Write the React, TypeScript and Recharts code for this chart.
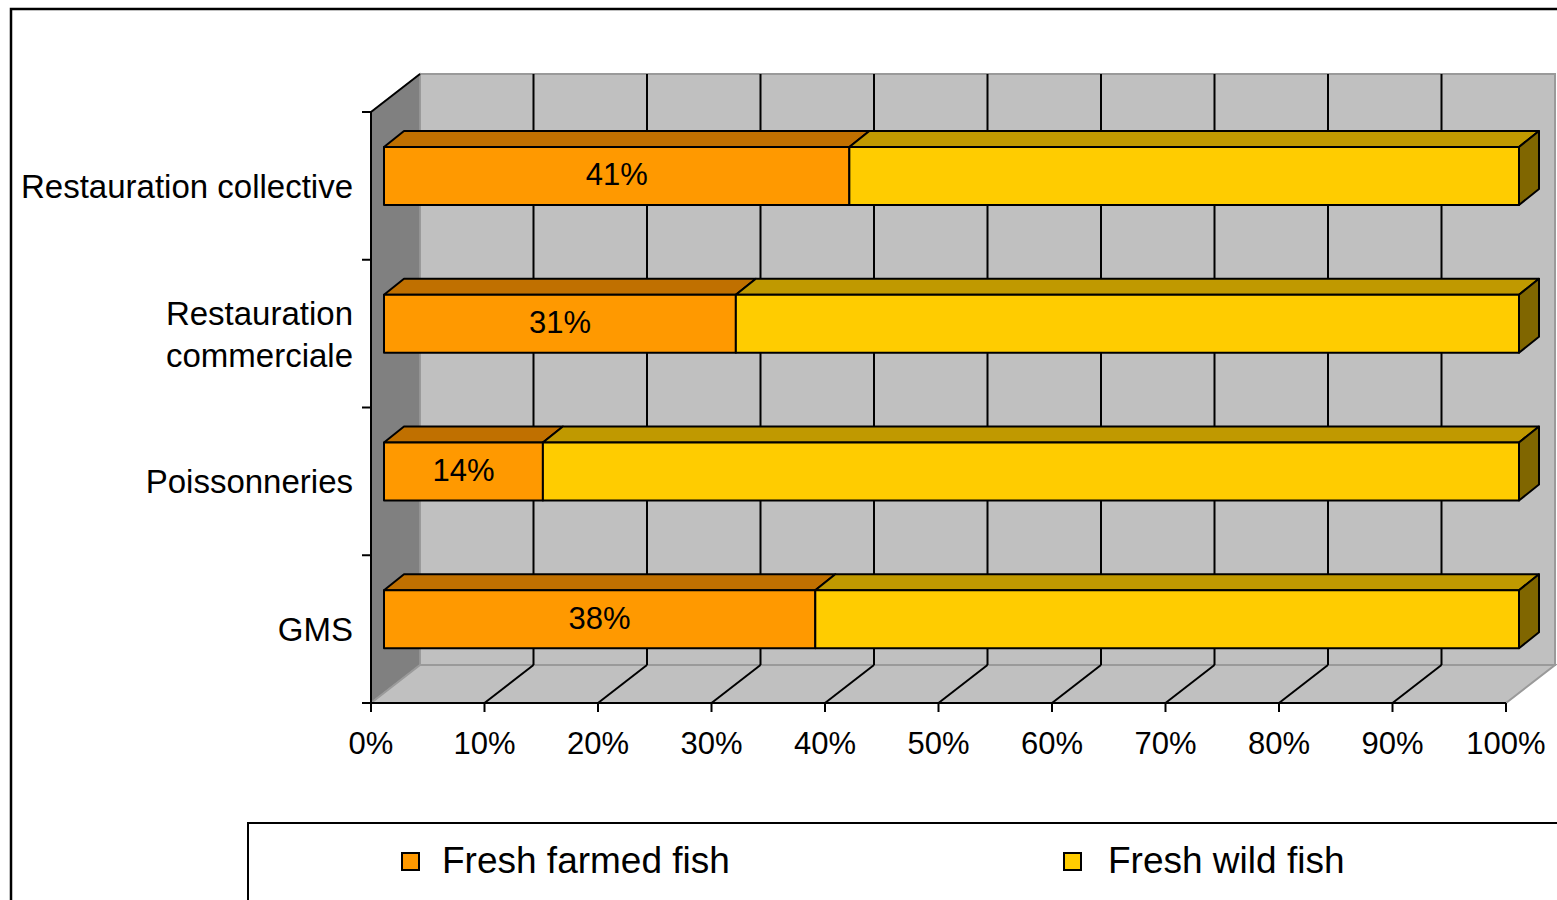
import React from "react";
import { BarChart, Bar, XAxis, YAxis, Legend, LabelList, Customized } from "recharts";

const categories = ["Restauration collective", "Restauration\ncommerciale", "Poissonneries", "GMS"];
const farmedShare = [41, 31, 14, 38];
const wildShare = [59, 69, 86, 62];
const xTicks = [0, 10, 20, 30, 40, 50, 60, 70, 80, 90, 100];
const seriesNames = ["Fresh farmed fish", "Fresh wild fish"];

const data = categories.map((name, i) => ({
  name,
  farmed: farmedShare[i],
  wild: wildShare[i],
}));

const WIDTH = 1557;
const HEIGHT = 900;
const FONT = "'Liberation Sans', Arial, Helvetica, sans-serif";

// front plane of the plot (matches the chart margins below)
const PLOT = { left: 371, top: 112, right: 1506, bottom: 703 };
// back wall offset, bar offset from the front plane and bar depth
const WALL = { dx: 49, dy: -38 };
const SHIFT = { dx: 13, dy: -10 };
const DEPTH = { dx: 20, dy: -16 };

const COLORS = {
  farmed: { face: "#FF9900", top: "#C07000", side: "#805000" },
  wild: { face: "#FFCC00", top: "#C09900", side: "#806600" },
};

const pts = (list: number[][]) => list.map((p) => p.join(",")).join(" ");

function Backdrop() {
  const { left, top, right, bottom } = PLOT;
  const span = right - left;
  const band = (bottom - top) / categories.length;
  const bx = WALL.dx;
  const by = WALL.dy;
  return (
    <g>
      <rect x={11} y={9} width={1700} height={1000} fill="none" stroke="#000" strokeWidth={2.5} />
      <rect
        x={left + bx}
        y={top + by}
        width={span}
        height={bottom - top}
        fill="#C0C0C0"
        stroke="#9A9A9A"
        strokeWidth={2}
      />
      <polygon
        points={pts([[left, top], [left + bx, top + by], [left + bx, bottom + by], [left, bottom]])}
        fill="#808080"
        stroke="#9A9A9A"
        strokeWidth={1.5}
      />
      <polygon
        points={pts([[left, bottom], [left + bx, bottom + by], [right + bx, bottom + by], [right, bottom]])}
        fill="#C0C0C0"
        stroke="#9A9A9A"
        strokeWidth={2}
      />
      <line x1={left} y1={top} x2={left + bx} y2={top + by} stroke="#000" strokeWidth={2} />
      {xTicks.slice(1, -1).map((t) => {
        const x = left + (t / 100) * span;
        return (
          <g key={t}>
            <line x1={x + bx} y1={top + by} x2={x + bx} y2={bottom + by} stroke="#000" strokeWidth={2} />
            <line x1={x} y1={bottom} x2={x + bx} y2={bottom + by} stroke="#000" strokeWidth={2} />
          </g>
        );
      })}
      {categories.map((_, i) => i)
        .concat([categories.length])
        .map((k) => (
          <line key={k} x1={left - 9} y1={top + k * band} x2={left} y2={top + k * band} stroke="#000" strokeWidth={2} />
        ))}
    </g>
  );
}

function Block(props: any) {
  const { x, y, width, height, colors, last } = props;
  if (width == null || width <= 0) return null;
  const fx = x + SHIFT.dx;
  const fy = y + SHIFT.dy;
  const { dx, dy } = DEPTH;
  return (
    <g stroke="#000" strokeWidth={2} strokeLinejoin="round">
      <polygon
        points={pts([[fx, fy], [fx + dx, fy + dy], [fx + width + dx, fy + dy], [fx + width, fy]])}
        fill={colors.top}
      />
      {last && (
        <polygon
          points={pts([
            [fx + width, fy],
            [fx + width + dx, fy + dy],
            [fx + width + dx, fy + height + dy],
            [fx + width, fy + height],
          ])}
          fill={colors.side}
        />
      )}
      <rect x={fx} y={fy} width={width} height={height} fill={colors.face} />
    </g>
  );
}

function CategoryTick(props: any) {
  const { x, y, payload } = props;
  const lines = String(payload.value).split("\n");
  const lh = 42;
  const start = y - ((lines.length - 1) * lh) / 2;
  return (
    <text x={x} y={start} textAnchor="end" fontFamily={FONT} fontSize={33} fill="#000">
      {lines.map((line, i) => (
        <tspan key={i} x={x} y={start + i * lh} dy="0.36em">
          {line}
        </tspan>
      ))}
    </text>
  );
}

function PercentTick(props: any) {
  const { x, y, payload } = props;
  return (
    <text x={x} y={y} dy="0.72em" textAnchor="middle" fontFamily={FONT} fontSize={31} fill="#000">
      {payload.value}%
    </text>
  );
}

function ShareLabel(props: any) {
  const box = props.viewBox ?? props;
  const { x, y, width, height } = box;
  return (
    <text
      x={x + width / 2 + SHIFT.dx}
      y={y + height / 2 + SHIFT.dy}
      dy="0.3em"
      textAnchor="middle"
      fontFamily={FONT}
      fontSize={31}
      fill="#000"
    >
      {props.value}%
    </text>
  );
}

function LegendBox(props: any) {
  const items = props.payload ?? [];
  return (
    <svg width={1400} height={120} style={{ display: "block" }}>
      <rect x={1} y={1} width={1500} height={200} fill="#fff" stroke="#000" strokeWidth={2} />
      {items.map((item: any, i: number) => {
        const sx = 155 + i * 662;
        return (
          <g key={item.value}>
            <rect x={sx} y={31} width={17} height={17} fill={item.color} stroke="#000" strokeWidth={2} />
            <text x={sx + 40 + i * 4} y={51} fontFamily={FONT} fontSize={37} fill="#000">
              {item.value}
            </text>
          </g>
        );
      })}
    </svg>
  );
}

export default function App() {
  return (
    <div
      style={{
        position: "absolute",
        left: 0,
        top: 0,
        width: WIDTH,
        height: HEIGHT,
        overflow: "hidden",
        background: "#fff",
      }}
    >
      <BarChart
        width={WIDTH}
        height={HEIGHT}
        data={data}
        layout="vertical"
        barSize={58}
        margin={{ top: PLOT.top, right: WIDTH - PLOT.right, bottom: 137, left: 31 }}
      >
        <Customized component={<Backdrop />} />
        <XAxis
          type="number"
          domain={[0, 100]}
          ticks={xTicks}
          interval={0}
          height={60}
          axisLine={{ stroke: "#000", strokeWidth: 2 }}
          tickLine={{ stroke: "#000", strokeWidth: 2 }}
          tickSize={9}
          tickMargin={20}
          tick={<PercentTick />}
        />
        <YAxis
          type="category"
          dataKey="name"
          width={340}
          axisLine={{ stroke: "#000", strokeWidth: 2 }}
          tickLine={false}
          tickSize={0}
          tickMargin={18}
          tick={<CategoryTick />}
        />
        <Legend
          layout="horizontal"
          verticalAlign="middle"
          align="center"
          wrapperStyle={{ position: "absolute", left: 247, top: 822, width: 1400, height: 120 }}
          content={<LegendBox />}
        />
        <Bar
          dataKey="farmed"
          name={seriesNames[0]}
          stackId="share"
          fill={COLORS.farmed.face}
          isAnimationActive={false}
          shape={(p: any) => <Block {...p} colors={COLORS.farmed} last={false} />}
        >
          <LabelList dataKey="farmed" content={<ShareLabel />} />
        </Bar>
        <Bar
          dataKey="wild"
          name={seriesNames[1]}
          stackId="share"
          fill={COLORS.wild.face}
          isAnimationActive={false}
          shape={(p: any) => <Block {...p} colors={COLORS.wild} last={true} />}
        />
      </BarChart>
    </div>
  );
}
